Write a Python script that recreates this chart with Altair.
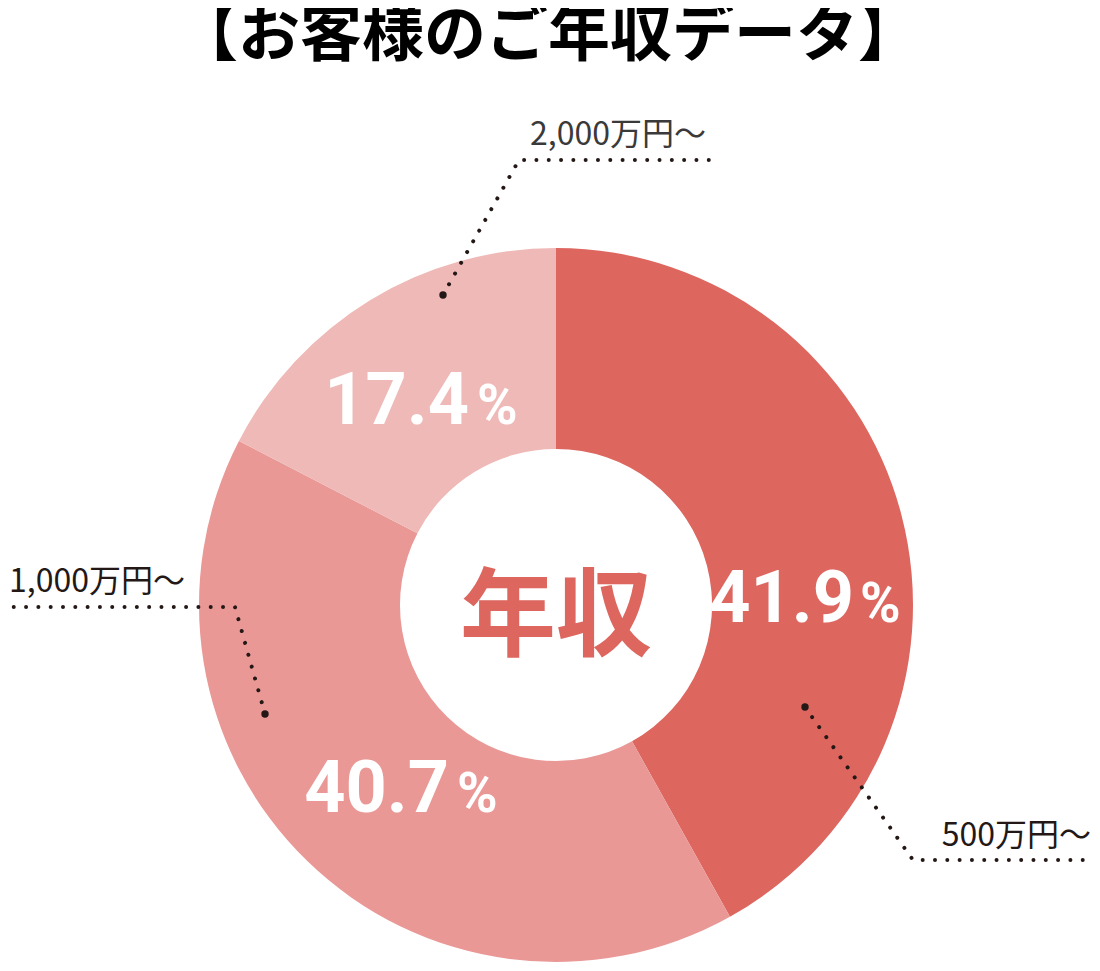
import altair as alt
import pandas as pd

# ---- data -------------------------------------------------------------
categories = ["500万円〜", "1,000万円〜", "2,000万円〜"]
shares = [41.9, 40.7, 17.4]
pct_text = ["41.9", "40.7", "17.4"]
colors = ["#DD665F", "#E99896", "#EEB9B6"]

title_text = "【お客様のご年収データ】"
center_text = "年収"

# ---- annotation geometry (page pixels) ---------------------------------
leader_x = [[805, 913, 1100], [265, 235, 0], [443, 519, 713]]
leader_y = [[707, 860, 860], [714, 607, 607], [295, 160, 160]]
label_x = [1091, 9, 530]
label_y = [846, 592, 145]
label_align = ["right", "left", "left"]
label_color = ["#231815", "#231815", "#3a3a3a"]

# ---- layout -----------------------------------------------------------
W, H, OFF = 1084, 955, 8
CX, CY = 556, 605
R_OUT, R_IN, R_LAB = 357, 156, 250
num_dx = [56, 67, 43]
pct_dx = [62, 75, 51]
num_dy = [80, 27, 33]

xs = alt.Scale(domain=[OFF, OFF + W], range=[0, W], nice=False, zero=False)
ys = alt.Scale(domain=[OFF, OFF + H], range=[0, H], nice=False, zero=False)

df = pd.DataFrame({"idx": range(len(categories)), "cat": categories,
                   "share": shares, "pct": pct_text})

arc = alt.Chart(df).mark_arc(innerRadius=R_IN, outerRadius=R_OUT).encode(
    theta=alt.Theta("share:Q", stack=True),
    order=alt.Order("idx:O"),
    color=alt.Color("cat:N", scale=alt.Scale(domain=categories, range=colors), legend=None),
    x=alt.value(CX - OFF),
    y=alt.value(CY - OFF),
)

pct_base = alt.Chart(df).transform_joinaggregate(
    total="sum(share)"
).transform_window(
    cum="sum(share)", sort=[alt.SortField("idx")], frame=[None, 0]
).transform_calculate(
    mid="(datum.cum - datum.share / 2) / datum.total * 2 * PI"
).transform_calculate(
    lx=f"{CX} + {R_LAB} * sin(datum.mid)"
).transform_calculate(
    ly=f"{CY} - {R_LAB} * cos(datum.mid)"
)

NUM_FONT = "Roboto"
pct_layers = []
for i in range(len(categories)):
    b = pct_base.transform_filter(f"datum.idx == {i}")
    pct_layers.append(
        b.mark_text(font=NUM_FONT, fontWeight="bold", fontSize=72, color="white",
                    align="right", baseline="alphabetic", dx=num_dx[i], dy=num_dy[i]).encode(
            x=alt.X("lx:Q", scale=xs, axis=None),
            y=alt.Y("ly:Q", scale=ys, axis=None),
            text="pct:N",
        )
    )
    pct_layers.append(
        b.mark_text(font=NUM_FONT, fontWeight="bold", fontSize=55, color="white",
                    align="left", baseline="alphabetic", dx=pct_dx[i], dy=num_dy[i]).encode(
            x=alt.X("lx:Q", scale=xs, axis=None),
            y=alt.Y("ly:Q", scale=ys, axis=None),
            text=alt.value("%"),
        )
    )

# leader lines
rows = []
for g in range(len(categories)):
    for k in range(len(leader_x[g])):
        rows.append({"g": g, "k": k, "x": leader_x[g][k], "y": leader_y[g][k]})
lead_df = pd.DataFrame(rows)

leaders = alt.Chart(lead_df).mark_line(
    color="#231815", strokeWidth=4, strokeDash=[0.01, 12.3], strokeCap="round"
).encode(
    x=alt.X("x:Q", scale=xs, axis=None),
    y=alt.Y("y:Q", scale=ys, axis=None),
    detail="g:N",
    order="k:O",
)

ends = alt.Chart(lead_df).transform_filter("datum.k == 0").mark_circle(
    color="#231815", size=55, opacity=1
).encode(
    x=alt.X("x:Q", scale=xs, axis=None),
    y=alt.Y("y:Q", scale=ys, axis=None),
)

lab_df = pd.DataFrame({"cat": categories, "x": label_x, "y": label_y})
cat_layers = []
for i in range(len(categories)):
    cat_layers.append(
        alt.Chart(lab_df).transform_filter(f"datum.cat == '{categories[i]}'").mark_text(
            font="Noto Sans CJK JP", fontSize=32, align=label_align[i],
            baseline="alphabetic", color=label_color[i]
        ).encode(
            x=alt.X("x:Q", scale=xs, axis=None),
            y=alt.Y("y:Q", scale=ys, axis=None),
            text="cat:N",
        )
    )

title_df = pd.DataFrame({"t": [title_text], "x": [548], "y": [56]})
title = alt.Chart(title_df).mark_text(
    font="Noto Sans CJK JP", fontWeight="bold", fontSize=62, color="#000000",
    align="center", baseline="alphabetic"
).encode(
    x=alt.X("x:Q", scale=xs, axis=None),
    y=alt.Y("y:Q", scale=ys, axis=None),
    text="t:N",
)

center_df = pd.DataFrame({"t": [center_text], "x": [CX], "y": [648]})
center = alt.Chart(center_df).mark_text(
    font="Noto Sans CJK JP", fontWeight="bold", fontSize=96, color="#DD665F",
    align="center", baseline="alphabetic"
).encode(
    x=alt.X("x:Q", scale=xs, axis=None),
    y=alt.Y("y:Q", scale=ys, axis=None),
    text="t:N",
)

chart = alt.layer(arc, *pct_layers, leaders, ends, *cat_layers, title, center).properties(
    width=W, height=H, autosize=alt.AutoSizeParams(type="none"), padding=0
).configure_view(stroke=None)

chart.save("out.html", embed_options={"renderer": "svg", "actions": False})
